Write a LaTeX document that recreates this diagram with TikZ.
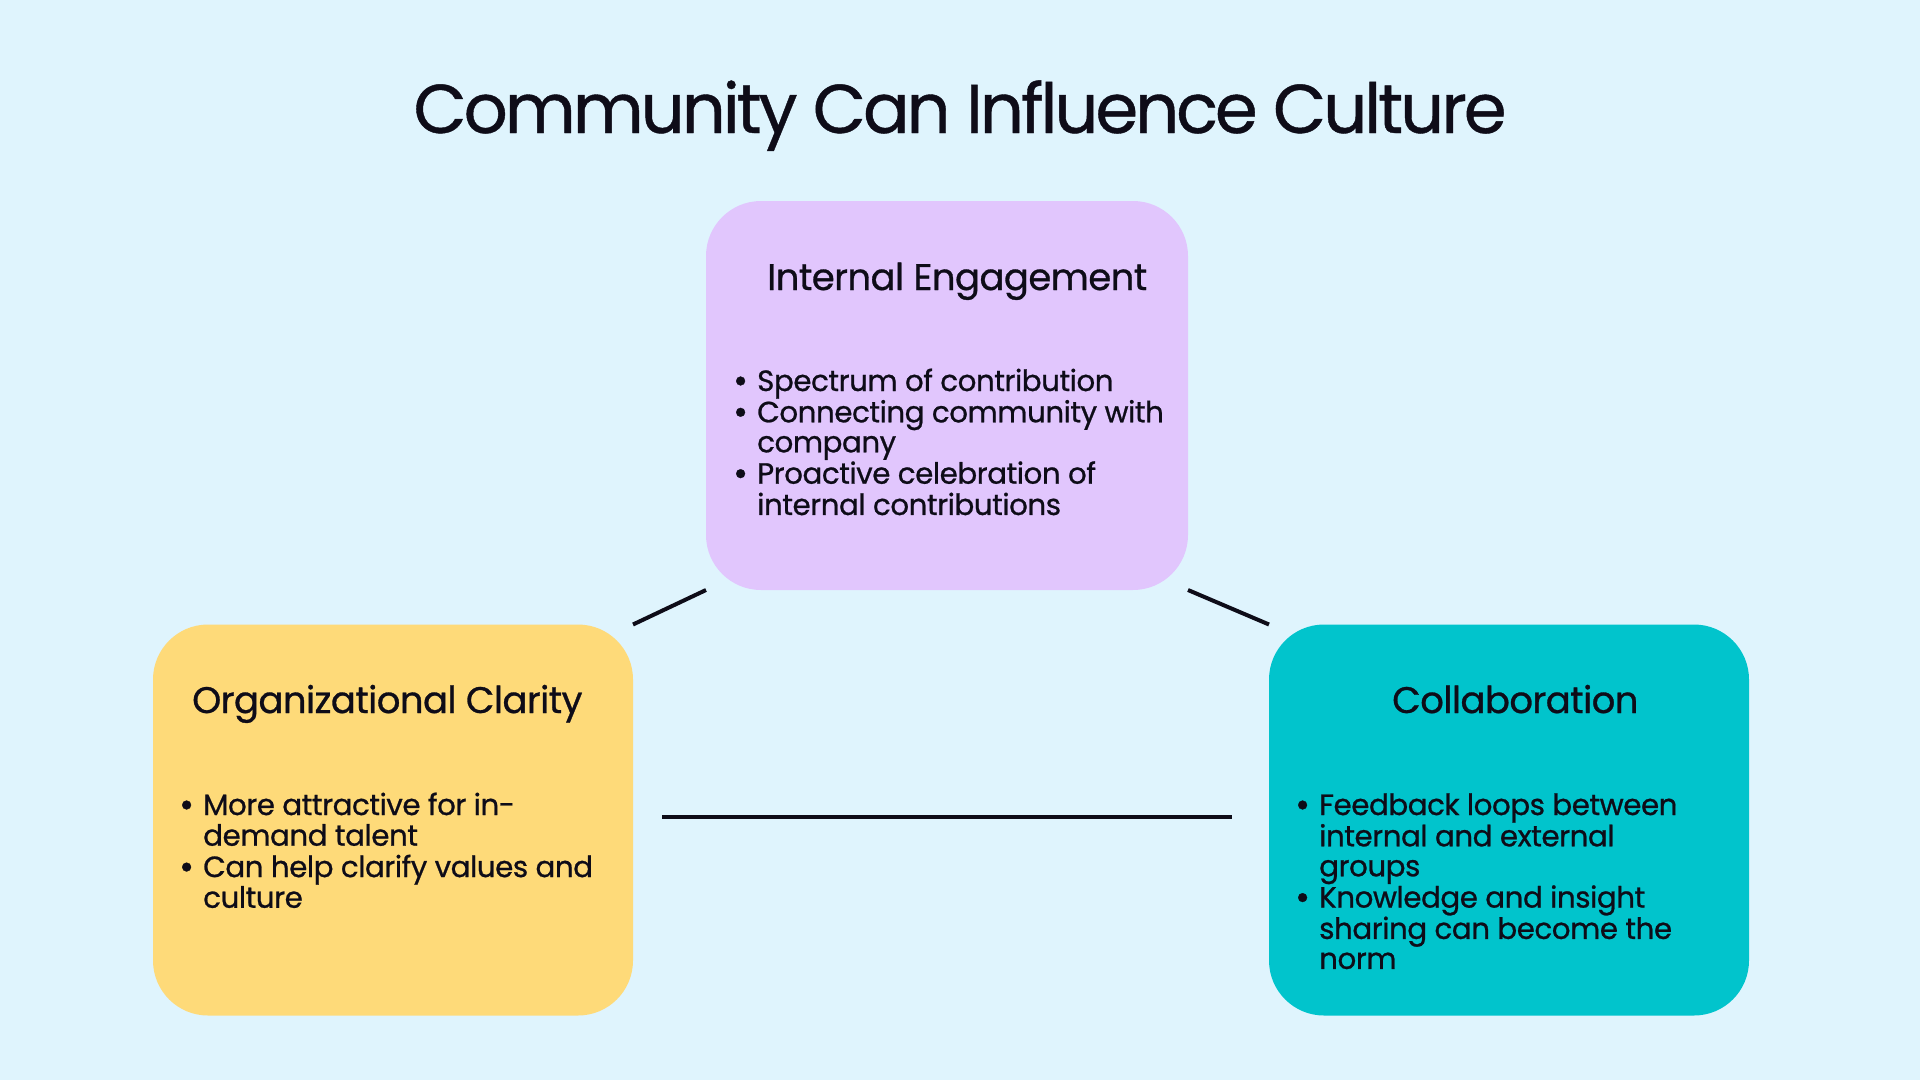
\documentclass[tikz,border=0pt]{standalone}
\usepackage{fontspec}
\setmainfont{Poppins}
\newfontfamily\titlefont{Poppins}[LetterSpace=-4.5,FakeBold=0.6]
\newfontfamily\headfont{Poppins}[LetterSpace=-1.5,FakeBold=0.8]
\newfontfamily\listfont{Poppins}[LetterSpace=-1.5,FakeBold=0.8]
\definecolor{bgc}{HTML}{DFF4FD}
\definecolor{purplec}{HTML}{E1C6FD}
\definecolor{yellowc}{HTML}{FEDA79}
\definecolor{tealc}{HTML}{01C4CC}
\definecolor{inkc}{HTML}{0E0C18}
\tikzset{
  card/.style={draw=none, rounded corners=55pt, inner sep=0pt, outer sep=0pt},
  headtxt/.style={anchor=base west, inner sep=0pt, text=inkc, font=\headfont\fontsize{37}{40}\selectfont},
  listtxt/.style={anchor=base west, inner sep=0pt, text=inkc, font=\listfont\fontsize{29.3}{30}\selectfont},
  link/.style={draw=inkc, line width=4pt}
}
\newcommand{\bl}{\makebox[24pt][l]{\raisebox{-2pt}{\fontsize{36}{30}\selectfont\textbullet}}}
\begin{document}
\begin{tikzpicture}[x=1pt,y=-1pt]
\useasboundingbox (0,0) rectangle (1920,1080);
\fill[bgc] (0,0) rectangle (1920,1080);

\node[anchor=base, inner sep=0pt, text=inkc, font=\titlefont\fontsize{69}{72}\selectfont] (title) at (960,133) {Community Can Influence Culture};

\node[card, fill=purplec, minimum width=482pt, minimum height=389pt] (ie) at (947,395.5) {};
\node[card, fill=yellowc, minimum width=480pt, minimum height=391pt] (oc) at (393,820) {};
\node[card, fill=tealc, minimum width=480pt, minimum height=391pt] (co) at (1509,820) {};

\node[headtxt] (ieh) at (767,290) {Internal Engagement};
\node[headtxt] (och) at (192,713) {Organizational Clarity};
\node[headtxt] (coh) at (1392,713) {Collaboration};

\node[listtxt] (iel) at (733,391) {\begin{tabular}[t]{@{}l@{}l@{}}
\bl & Spectrum of contribution\\
\bl & Connecting community with\\
 & company\\
\bl & Proactive celebration of\\
 & internal contributions
\end{tabular}};

\node[listtxt] (ocl) at (179,815) {\begin{tabular}[t]{@{}l@{}l@{}}
\bl & More attractive for in-\\
 & demand talent\\
\bl & Can help clarify values and\\
 & culture
\end{tabular}};

\node[listtxt] (col) at (1295,815) {\begin{tabular}[t]{@{}l@{}l@{}}
\bl & Feedback loops between\\
 & internal and external\\
 & groups\\
\bl & Knowledge and insight\\
 & sharing can become the\\
 & norm
\end{tabular}};

\draw[link] (oc.north east) -- (ie.south west);
\draw[link] (ie.south east) -- (co.north west);
\draw[link] ([shift={(29,-3)}]oc.east) -- ([shift={(-37,-3)}]co.west);
\end{tikzpicture}
\end{document}
